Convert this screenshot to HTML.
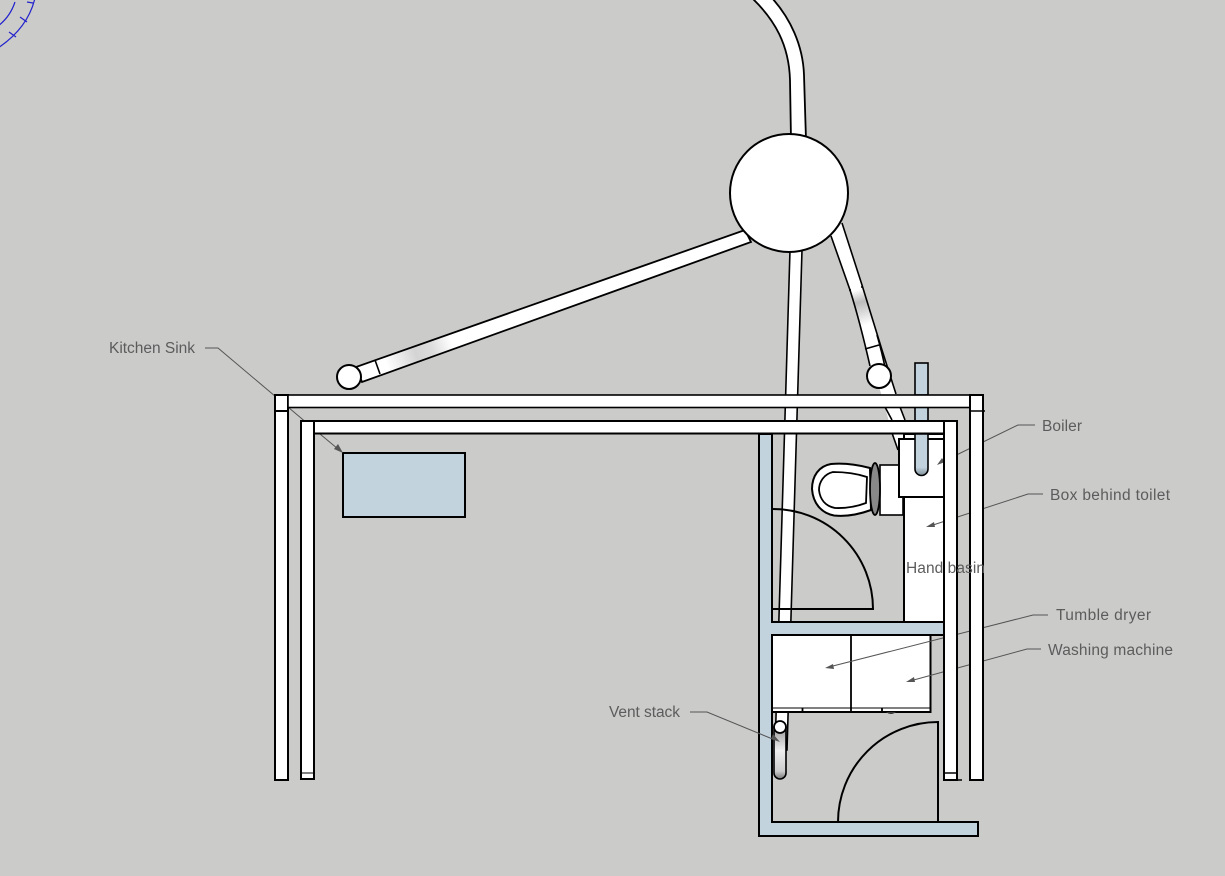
<!DOCTYPE html>
<html>
<head>
<meta charset="utf-8">
<style>
html,body{margin:0;padding:0;background:#cbcbca;width:1225px;height:876px;overflow:hidden}
svg{display:block}
text{font-family:"Liberation Sans",sans-serif;font-size:15.5px;fill:#5c5c5c}
</style>
</head>
<body>
<svg width="1225" height="876" viewBox="0 0 1225 876" xmlns="http://www.w3.org/2000/svg">
<defs>
<linearGradient id="lp" gradientUnits="userSpaceOnUse" x1="385" y1="360" x2="450" y2="337">
<stop offset="0" stop-color="#fff"/><stop offset=".45" stop-color="#d4d4d4"/><stop offset=".7" stop-color="#ddd"/><stop offset="1" stop-color="#fff"/>
</linearGradient>
<linearGradient id="rp" gradientUnits="userSpaceOnUse" x1="856" y1="290" x2="866" y2="325">
<stop offset="0" stop-color="#fff"/><stop offset=".35" stop-color="#bbb"/><stop offset="1" stop-color="#fff"/>
</linearGradient>
<linearGradient id="bv" x1="0" x2="0" y1="0" y2="1">
<stop offset="0" stop-color="#c3d3de"/><stop offset=".8" stop-color="#c3d3de"/><stop offset="1" stop-color="#7f8f9a"/>
</linearGradient>
<linearGradient id="gv" x1="0" x2="0" y1="0" y2="1">
<stop offset="0" stop-color="#999"/><stop offset=".45" stop-color="#eee"/><stop offset=".85" stop-color="#ccc"/><stop offset="1" stop-color="#777"/>
</linearGradient>
</defs>

<!-- protractor -->
<g fill="none" stroke="#2222cc" stroke-width="1.2">
<path d="M35,-2 Q28,28 -2,48"/>
<path d="M15,2 Q10,17 -2,26"/>
<path d="M9,32 L16,37 M20,17 L27,22 M27,2 L33,3"/>
</g>

<!-- top pipe -->
<path d="M752,-2 C775,20 789,45 790,80 L791,140 L806,140 L804,75 C803,45 790,18 772,-2 Z" fill="#fff" stroke="#000" stroke-width="1.800"/>

<!-- left pipe -->
<polygon points="745,230 751,242 362,382 356,367" fill="url(#lp)" stroke="#000" stroke-width="1.8"/>
<line x1="375" y1="360" x2="380" y2="374" stroke="#000" stroke-width="1.6"/>
<circle cx="349" cy="377" r="12" fill="#fff" stroke="#000" stroke-width="2"/>

<!-- right pipes -->
<polygon points="870,366 880,390 885,407 892,433 898,450 910,450 905,420 900,407 896,394 882,350 872,346" fill="#fff"/>
<polygon points="831,236 850,290 860,322 870,366 884,366 877,335 862,285 842,223" fill="url(#rp)"/>
<g fill="none" stroke="#000" stroke-width="1.6">
<path d="M831,236 L850,290 Q860,322 870,366"/>
<path d="M842,223 L862,285 L882,350 L896,394 M900,407 L905,420"/>
<path d="M877,335 Q882,352 886,372"/>
<path d="M885,407 L892,420 M892,433 L898,450"/>
<path d="M865,349 L879,345"/>
<path d="M849,290 L851,290 M861,287 L863,287"/>
</g>
<circle cx="879" cy="376" r="12" fill="#fff" stroke="#000" stroke-width="2"/>

<!-- vertical pipe -->
<polygon points="790,250 802,250 787,750 775,750" fill="#fff" stroke="#000" stroke-width="1.6"/>

<!-- big circle -->
<circle cx="789" cy="193" r="59" fill="#fff" stroke="#000" stroke-width="2"/>

<!-- hidden part of leader lines (behind walls) -->
<path d="M205,348 L218,348 L314,429" fill="none" stroke="#555" stroke-width="1"/>

<!-- top walls -->
<g fill="#fff" stroke="#000" stroke-width="2">
<rect x="275" y="395" width="13" height="385"/>
<rect x="301" y="421" width="13" height="358"/>
</g>
<line x1="275" y1="411" x2="288" y2="411" stroke="#000" stroke-width="2"/>
<line x1="301" y1="773" x2="314" y2="773" stroke="#000" stroke-width="1"/>

<!-- sink -->
<rect x="343" y="453" width="122" height="64" fill="#c3d3de" stroke="#000" stroke-width="2"/>
<path d="M320,434 L338,449" stroke="#555" fill="none"/>
<polygon points="343,453 334,449 338,444" fill="#555"/>

<!-- partition -->
<path d="M759,434 H772 V622 H944 V635 H772 V822 H978 V836 H759 Z" fill="#c3d3de" stroke="#000" stroke-width="2"/>

<!-- upper door -->
<path d="M772,509 A100,100 0 0 1 873,609 H772" fill="none" stroke="#000" stroke-width="2"/>

<!-- box behind toilet & boiler -->
<rect x="904" y="434" width="40" height="188" fill="#fff" stroke="#000" stroke-width="2"/>
<rect x="880" y="465" width="23" height="50" fill="#fff" stroke="#000" stroke-width="1.6"/>
<rect x="899" y="439" width="45" height="58" fill="#fff" stroke="#000" stroke-width="2"/>

<!-- vent pipe blue -->
<rect x="915" y="363" width="13" height="32" fill="#c3d3de" stroke="#000" stroke-width="1.6"/>
<rect x="915" y="407" width="13" height="14" fill="#c3d3de"/>
<line x1="915" y1="407" x2="915" y2="421" stroke="#000" stroke-width="1.6"/>
<line x1="928" y1="407" x2="928" y2="421" stroke="#000" stroke-width="1.6"/>
<path d="M915,434 V469 A6.500,6.500 0 0 0 928,469 V434 Z" fill="url(#bv)" stroke="#000" stroke-width="1.6"/>
<rect x="314" y="421" width="630" height="12.5" fill="#fff" stroke="#000" stroke-width="2"/>
<rect x="288" y="395" width="682" height="12.5" fill="#fff" stroke="#000" stroke-width="1.6"/>

<!-- toilet -->
<path d="M870,468 C855,464 842,463 831,464 C819,466 812,476 812,489 C813,503 821,513 834,515.500 C848,517 860,514 871,510 Z" fill="#fff" stroke="#000" stroke-width="2"/>
<path d="M867,477 C855,473 842,472 833,472 C824,474 819,482 819,490 C820,499 825,506 835,508 C847,508.500 858,506 866,503 Z" fill="#fff" stroke="#000" stroke-width="1.800"/>
<ellipse cx="875" cy="489" rx="5" ry="26" fill="#888" stroke="#000" stroke-width="1.8"/>

<!-- machines -->
<rect x="772" y="635" width="158.500" height="77" fill="#fff" stroke="#000" stroke-width="2"/>
<line x1="851" y1="635" x2="851" y2="712" stroke="#000" stroke-width="1.8"/>
<line x1="772" y1="708" x2="930" y2="708" stroke="#000" stroke-width="1"/>
<g stroke="#000" stroke-width="1.800">
<line x1="802.500" y1="708" x2="802.500" y2="712"/>
<line x1="882" y1="708" x2="882" y2="712"/>
</g>
<path d="M886,712 Q891,716 896,712 Z" fill="#333"/>

<!-- lower vent -->
<path d="M774,727 V773 A6,6 0 0 0 786,773 V727 Z" fill="url(#gv)" stroke="#000" stroke-width="1.600"/>
<circle cx="780" cy="727" r="6" fill="#fff" stroke="#000" stroke-width="1.800"/>

<!-- lower door -->
<path d="M938,822 V722 A100,100 0 0 0 838,822" fill="none" stroke="#000" stroke-width="2"/>

<!-- leaders -->
<g fill="none" stroke="#555" stroke-width="1">
<path d="M1035,425 L1018,425 L940,463"/>
<path d="M1043,494 L1028,494 L930,526"/>
<path d="M1048,615 L1033,615 L829,667"/>
<path d="M1041,649 L1027,649 L910,681"/>
<path d="M690,712 L707,712 L775,740"/>
</g>
<g fill="#555">
<polygon points="937,465 942,458 945,462"/>
<polygon points="926,527 934,522 935,527"/>
<polygon points="825,668 833,664 834,669"/>
<polygon points="906,682 914,677 915,682"/>
<polygon points="780,742 771,739 773,734"/>
</g>

<!-- right walls -->
<g fill="#fff" stroke="#000" stroke-width="2">
<rect x="944" y="421" width="13" height="359"/>
<rect x="970" y="395" width="13" height="385"/>
</g>
<path d="M944,773 H957 M957,780 H962 M970,411 H985" stroke="#000" fill="none" stroke-width="1.500"/>

<!-- labels -->
<text x="109" y="353" textLength="86">Kitchen Sink</text>
<text x="1042" y="431" textLength="40">Boiler</text>
<text x="1050" y="500" textLength="120">Box behind toilet</text>
<text x="906" y="573" textLength="79">Hand basin</text>
<text x="1056" y="620" textLength="95">Tumble dryer</text>
<text x="1048" y="655" textLength="125">Washing machine</text>
<text x="609" y="717" textLength="71">Vent stack</text>
</svg>
</body>
</html>
